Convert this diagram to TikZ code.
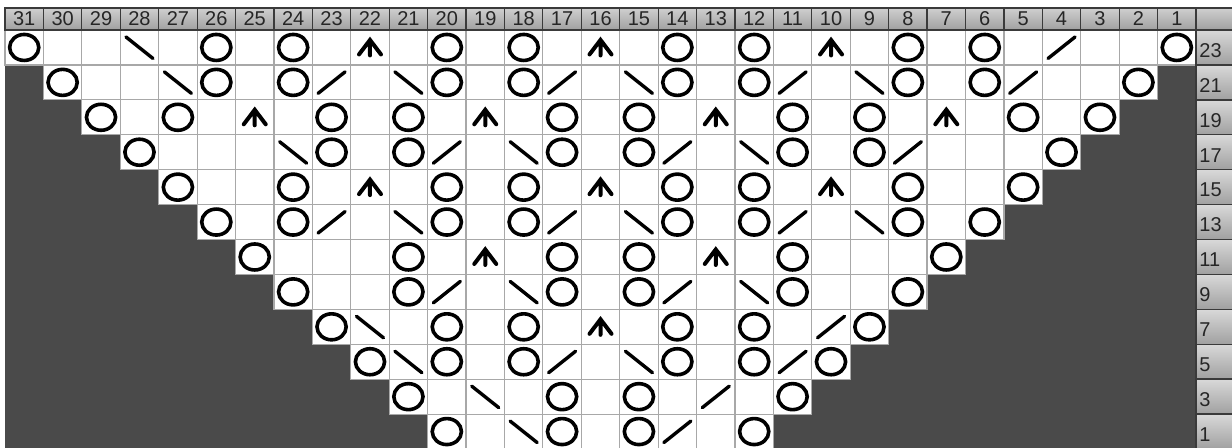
\documentclass[tikz,border=0pt]{standalone}
\usepackage{fontspec}
\setmainfont{Liberation Sans}
\definecolor{chartdark}{HTML}{4A4A4A}
\definecolor{gridline}{HTML}{A8A8A8}
\definecolor{headtop}{HTML}{CFCFCF}
\definecolor{headbot}{HTML}{A0A0A0}
\definecolor{rimline}{HTML}{3A3A3A}
\definecolor{numink}{HTML}{262626}
\newcommand\cellw{38.42}
\newcommand\cellh{34.92}
\newcommand\chartfont{\fontsize{10}{12}\selectfont}

\begin{document}
\begin{tikzpicture}[
      x=0.5pt, y=-0.5pt,
      stitch/.style={fill=white, draw=gridline, line width=0.6pt},
      headcell/.style={top color=headtop, bottom color=headbot, draw=rimline, line width=0.6pt},
      labcell/.style={top color=headtop!80!white, bottom color=headbot, draw=rimline, line width=0.7pt},
      headnum/.style={font=\chartfont, text=numink, inner sep=0pt},
      yo/.pic={\draw[line width=1.8pt] (0,0) ellipse [x radius=14.6, y radius=13];},
      ssk/.pic={\draw[line width=1.7pt, line cap=round] (-13.5,-10.5) -- (13.5,11);},
      ktog/.pic={\draw[line width=1.7pt, line cap=round] (-13.5,11) -- (13.5,-10.5);},
      cdd/.pic={\draw[line width=2pt, line cap=round] (-11,7) -- (0,-7.5) -- (11,7) (0,-6) -- (0,8);},
    ]
      \useasboundingbox (0,0) rectangle (1232,448);
      \fill[white] (0,0) rectangle (1232,448);
      \fill[chartdark] (5,30) rectangle (1196,460);
      \foreach \i in {0,...,11} {
        \pgfmathtruncatemacro\last{30-\i}
        \foreach \k in {\i,...,\last}
          \draw[stitch] ({5+\k*\cellw},{30+\i*\cellh}) rectangle ++(\cellw,\cellh);
      }
      \foreach \c in {1,...,31} {
        \draw[headcell] ({5+(31-\c)*\cellw},8) rectangle ++(\cellw,22);
        \node[headnum] (h\c) at ({5+(31.5-\c)*\cellw},19) {\c};
      }
      \draw[headcell] (1196,8) rectangle (1240,30);
      \foreach \r [count=\i from 0] in {23,21,...,1} {
        \draw[labcell] (1196,{30+\i*\cellh}) rectangle ++(44,\cellh);
        \node[headnum, anchor=west] (r\r) at (1199,{30+(\i+0.5)*\cellh+3}) {\r};
      }
      \foreach \i/\cols in {0/{31,26,24,20,18,14,12,8,6,1}, 1/{30,26,24,20,18,14,12,8,6,2},
          2/{29,27,23,21,17,15,11,9,5,3}, 3/{28,23,21,17,15,11,9,4}, 4/{27,24,20,18,14,12,8,5},
          5/{26,24,20,18,14,12,8,6}, 6/{25,21,17,15,11,7}, 7/{24,21,17,15,11,8},
          8/{23,20,18,14,12,9}, 9/{22,20,18,14,12,10}, 10/{21,17,15,11}, 11/{20,17,15,12}}
        \foreach \c in \cols
          \pic at ({5+(31.5-\c)*\cellw},{30+(\i+0.5)*\cellh}) {yo};
      \foreach \i/\cols in {0/{28}, 1/{27,21,15,9}, 3/{24,18,12}, 5/{21,15,9}, 7/{18,12},
          8/{22}, 9/{21,15}, 10/{19}, 11/{18}}
        \foreach \c in \cols
          \pic at ({5+(31.5-\c)*\cellw},{30+(\i+0.5)*\cellh}) {ssk};
      \foreach \i/\cols in {0/{4}, 1/{23,17,11,5}, 3/{20,14,8}, 5/{23,17,11}, 7/{20,14},
          8/{10}, 9/{17,11}, 10/{13}, 11/{14}}
        \foreach \c in \cols
          \pic at ({5+(31.5-\c)*\cellw},{30+(\i+0.5)*\cellh}) {ktog};
      \foreach \i/\cols in {0/{22,16,10}, 2/{25,19,13,7}, 4/{22,16,10}, 6/{19,13}, 8/{16}}
        \foreach \c in \cols
          \pic at ({5+(31.5-\c)*\cellw},{30+(\i+0.5)*\cellh}) {cdd};
    \end{tikzpicture}
\end{document}
